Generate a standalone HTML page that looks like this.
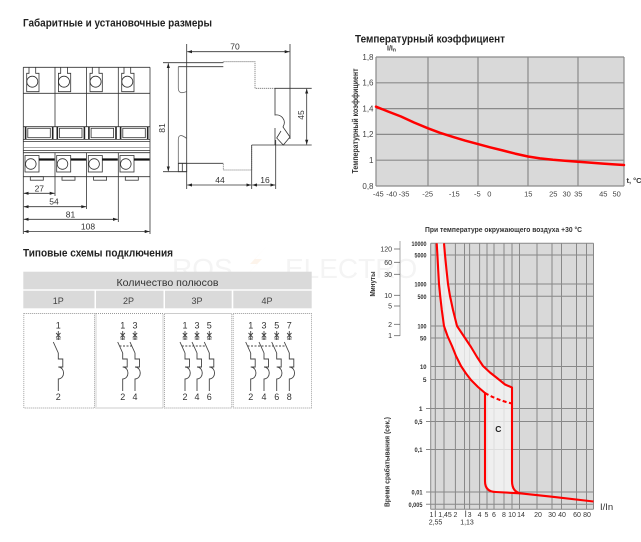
<!DOCTYPE html>
<html><head><meta charset="utf-8"><style>
html,body{margin:0;padding:0;background:#fff;}
svg{display:block;}
text{font-family:"Liberation Sans","DejaVu Sans",sans-serif;}
</style></head><body>
<svg width="641" height="542" viewBox="0 0 641 542" xmlns="http://www.w3.org/2000/svg">
<defs>
<marker id="ar" viewBox="0 0 6 4" refX="6" refY="2" markerWidth="5" markerHeight="3.2" orient="auto-start-reverse" markerUnits="userSpaceOnUse"><path d="M0,0 L6,2 L0,4 z" fill="#222"/></marker>
<g id="pole" fill="none" stroke="#444" stroke-width="0.9">
 <line x1="0" y1="331" x2="0" y2="340"/>
 <line x1="-2.2" y1="333" x2="2.2" y2="337.5"/>
 <line x1="2.2" y1="333" x2="-2.2" y2="337.5"/>
 <line x1="-2.3" y1="339" x2="2.3" y2="339"/>
 <line x1="-5" y1="342" x2="0" y2="353"/>
 <path d="M0,353 V359 H4.5 V367 H0 C7,367.5 7,378.5 0,379 V391"/>
</g>
</defs>

<!-- watermark -->
<text x="172" y="278" font-size="28" fill="#f4f4f4">ROS</text>
<path d="M266,247 L250,264 L257,264 L243,279 L262,259 L255,259 Z" fill="#fbe9d8" opacity="0.5"/>
<text x="285" y="278" font-size="28" fill="#f4f4f4">ELECTRO</text>

<!-- ============ Titles ============ -->
<text x="23" y="26.5" font-size="11" font-weight="bold" fill="#222" textLength="189" lengthAdjust="spacingAndGlyphs">Габаритные и установочные размеры</text>
<text x="23" y="256.5" font-size="11" font-weight="bold" fill="#222" textLength="150" lengthAdjust="spacingAndGlyphs">Типовые схемы подключения</text>
<text x="355" y="42.5" font-size="11" font-weight="bold" fill="#222" textLength="150" lengthAdjust="spacingAndGlyphs">Температурный коэффициент</text>

<!-- ============ Front view ============ -->
<g fill="none" stroke="#333" stroke-width="0.8">
 <line x1="23.3" y1="67.3" x2="23.3" y2="234"/>
 <line x1="150" y1="67.3" x2="150" y2="234"/>
 <line x1="23.3" y1="67.3" x2="150" y2="67.3"/>
 <line x1="23.3" y1="93.3" x2="150" y2="93.3"/>
 <line x1="23.3" y1="126.7" x2="150" y2="126.7"/>
 <line x1="23.3" y1="139.5" x2="150" y2="139.5"/>
 <line x1="23.3" y1="141.5" x2="150" y2="141.5"/>
 <line x1="23.3" y1="147.5" x2="150" y2="147.5" stroke="#888"/>
 <line x1="23.3" y1="150.5" x2="150" y2="150.5"/>
 <line x1="23.3" y1="152.7" x2="150" y2="152.7"/>
 <line x1="23.3" y1="176.7" x2="150" y2="176.7"/>
 <line x1="55" y1="67.3" x2="55" y2="126.7"/>
 <line x1="86.6" y1="67.3" x2="86.6" y2="126.7"/>
 <line x1="118.3" y1="67.3" x2="118.3" y2="126.7"/>
 <line x1="55" y1="152.7" x2="55" y2="196"/>
 <line x1="86.6" y1="152.7" x2="86.6" y2="209"/>
 <line x1="118.3" y1="152.7" x2="118.3" y2="222"/>
 <path d="M29,67.3 V73.3 H26.7 V91.7 H39 V73.3 H35.7 V67.3"/>
 <path d="M60.7,67.3 V73.3 H58.4 V91.7 H70.7 V73.3 H67.4 V67.3"/>
 <path d="M92.3,67.3 V73.3 H90 V91.7 H102.3 V73.3 H99 V67.3"/>
 <path d="M124,67.3 V73.3 H121.7 V91.7 H134 V73.3 H130.7 V67.3"/>
 <circle cx="32.3" cy="81.7" r="5.5"/>
 <circle cx="64" cy="81.7" r="5.5"/>
 <circle cx="95.6" cy="81.7" r="5.5"/>
 <circle cx="127.3" cy="81.7" r="5.5"/>
 <rect x="27.8" y="128.3" width="22.5" height="9.4"/>
 <rect x="59.5" y="128.3" width="22.5" height="9.4"/>
 <rect x="91.1" y="128.3" width="22.5" height="9.4"/>
 <rect x="122.8" y="128.3" width="22.5" height="9.4"/>
 <g stroke-width="1.6" stroke="#222">
  <line x1="25.6" y1="127" x2="25.6" y2="139"/><line x1="52.7" y1="127" x2="52.7" y2="139"/>
  <line x1="57.3" y1="127" x2="57.3" y2="139"/><line x1="84.4" y1="127" x2="84.4" y2="139"/>
  <line x1="88.9" y1="127" x2="88.9" y2="139"/><line x1="116" y1="127" x2="116" y2="139"/>
  <line x1="120.6" y1="127" x2="120.6" y2="139"/><line x1="147.7" y1="127" x2="147.7" y2="139"/>
 </g>
 <rect x="25" y="155.5" width="14" height="16.5"/>
 <rect x="56.7" y="155.5" width="14" height="16.5"/>
 <rect x="88.3" y="155.5" width="14" height="16.5"/>
 <rect x="120" y="155.5" width="14" height="16.5"/>
 <circle cx="30.8" cy="164" r="5.3"/>
 <circle cx="62.5" cy="164" r="5.3"/>
 <circle cx="94.1" cy="164" r="5.3"/>
 <circle cx="125.8" cy="164" r="5.3"/>
 <g stroke-width="2.2" stroke="#111">
  <line x1="39" y1="159.5" x2="54.5" y2="159.5"/>
  <line x1="70.7" y1="159.5" x2="86.1" y2="159.5"/>
  <line x1="102.3" y1="159.5" x2="117.8" y2="159.5"/>
  <line x1="134" y1="159.5" x2="149.5" y2="159.5"/>
 </g>
 <rect x="30.3" y="176.7" width="13" height="3.5"/>
 <rect x="62" y="176.7" width="13" height="3.5"/>
 <rect x="93.6" y="176.7" width="13" height="3.5"/>
 <rect x="125.3" y="176.7" width="13" height="3.5"/>
 <line x1="23.8" y1="193.3" x2="54.5" y2="193.3" marker-start="url(#ar)" marker-end="url(#ar)"/>
 <line x1="23.8" y1="206.7" x2="86.1" y2="206.7" marker-start="url(#ar)" marker-end="url(#ar)"/>
 <line x1="23.8" y1="219.3" x2="117.8" y2="219.3" marker-start="url(#ar)" marker-end="url(#ar)"/>
 <line x1="23.8" y1="231.5" x2="149.5" y2="231.5" marker-start="url(#ar)" marker-end="url(#ar)"/>
</g>
<g font-size="8.5" fill="#333" text-anchor="middle">
 <text x="39.3" y="191.5">27</text>
 <text x="54" y="204.7">54</text>
 <text x="70.5" y="217.5">81</text>
 <text x="88" y="229.5">108</text>
</g>

<!-- ============ Side view ============ -->
<g fill="none" stroke="#333" stroke-width="0.8">
 <line x1="186.7" y1="44" x2="186.7" y2="189"/>
 <line x1="290" y1="44" x2="290" y2="139"/>
 <line x1="187.2" y1="51.7" x2="289.5" y2="51.7" marker-start="url(#ar)" marker-end="url(#ar)"/>
 <line x1="163" y1="62.7" x2="223.3" y2="62.7"/>
 <line x1="178.3" y1="66.7" x2="223.3" y2="66.7"/>
 <path d="M223.3,62.7 V61.7 H255 V88.3 H275" stroke="#777" stroke-dasharray="1.3 0.7"/>
 <line x1="275" y1="88.3" x2="311.7" y2="88.3"/>
 <path d="M275,88.3 V115 C281,114 287,120 283,127 L290,137 L283.3,145 L276.7,138 L281,131"/>
 <line x1="275" y1="128" x2="275" y2="145"/>
 <line x1="251.7" y1="145" x2="311.7" y2="145"/>
 <path d="M251.7,145 V170 H223.3 V163.3" stroke="#777" stroke-dasharray="1.3 0.7"/>
 <line x1="178.3" y1="163.3" x2="223.3" y2="163.3"/>
 <path d="M178.3,66.7 V88 Q178.3,95 186.7,91.5" stroke="#666"/>
 <path d="M186.7,138.5 Q178.3,132 178.3,140 V163.3" stroke="#666"/>
 <rect x="178.3" y="163.3" width="8.4" height="8.4"/>
 <line x1="182.3" y1="163.3" x2="182.3" y2="171.7"/>
 <line x1="163" y1="171.7" x2="186.7" y2="171.7"/>
 <line x1="168.3" y1="63.2" x2="168.3" y2="171.2" marker-start="url(#ar)" marker-end="url(#ar)"/>
 <line x1="306.7" y1="88.8" x2="306.7" y2="144.5" marker-start="url(#ar)" marker-end="url(#ar)"/>
 <line x1="251.7" y1="145" x2="251.7" y2="189"/>
 <line x1="275.7" y1="140" x2="275.7" y2="189"/>
 <line x1="187.2" y1="185" x2="251.2" y2="185" marker-start="url(#ar)" marker-end="url(#ar)"/>
 <line x1="252.2" y1="185" x2="275.2" y2="185" marker-start="url(#ar)" marker-end="url(#ar)"/>
</g>
<g font-size="8.5" fill="#333" text-anchor="middle">
 <text x="235" y="49.5">70</text>
 <text x="220" y="183">44</text>
 <text x="265" y="183">16</text>
 <text transform="translate(165,128) rotate(-90)">81</text>
 <text transform="translate(304,115) rotate(-90)">45</text>
</g>

<!-- ============ Table ============ -->
<rect x="23.3" y="271.7" width="288.4" height="17.6" fill="#dadada"/>
<text x="167.5" y="286" font-size="10.5" text-anchor="middle" fill="#333" textLength="102" lengthAdjust="spacingAndGlyphs">Количество полюсов</text>
<rect x="23.3" y="290.7" width="71.2" height="17.6" fill="#dadada"/>
<rect x="96" y="290.7" width="67.5" height="17.6" fill="#dadada"/>
<rect x="165" y="290.7" width="66.7" height="17.6" fill="#dadada"/>
<rect x="233.3" y="290.7" width="78.4" height="17.6" fill="#dadada"/>
<g font-size="9" fill="#444" text-anchor="middle">
 <text x="58.3" y="304.2">1P</text>
 <text x="128.5" y="304.2">2P</text>
 <text x="197" y="304.2">3P</text>
 <text x="267" y="304.2">4P</text>
</g>
<g fill="none" stroke="#999" stroke-width="0.9" stroke-dasharray="1 1">
 <rect x="23.8" y="313.5" width="70.7" height="94.5"/>
 <rect x="96" y="313.5" width="67" height="94.5"/>
 <rect x="164.5" y="313.5" width="67.2" height="94.5"/>
 <rect x="233.2" y="313.5" width="78.3" height="94.5"/>
</g>
<use href="#pole" x="58.3"/>
<use href="#pole" x="122.7"/><use href="#pole" x="135"/>
<use href="#pole" x="185"/><use href="#pole" x="197"/><use href="#pole" x="209.3"/>
<use href="#pole" x="250.7"/><use href="#pole" x="264"/><use href="#pole" x="276.7"/><use href="#pole" x="289.3"/>
<g stroke="#444" stroke-width="0.9" stroke-dasharray="2 1.5">
 <line x1="119.5" y1="346" x2="131.8" y2="346"/>
 <line x1="181.8" y1="346" x2="206.1" y2="346"/>
 <line x1="247.5" y1="346" x2="286.1" y2="346"/>
</g>
<g font-size="9" fill="#333" text-anchor="middle">
 <text x="58.3" y="328.5">1</text><text x="58.3" y="400">2</text>
 <text x="122.7" y="328.5">1</text><text x="135" y="328.5">3</text>
 <text x="122.7" y="400">2</text><text x="135" y="400">4</text>
 <text x="185" y="328.5">1</text><text x="197" y="328.5">3</text><text x="209.3" y="328.5">5</text>
 <text x="185" y="400">2</text><text x="197" y="400">4</text><text x="209.3" y="400">6</text>
 <text x="250.7" y="328.5">1</text><text x="264" y="328.5">3</text><text x="276.7" y="328.5">5</text><text x="289.3" y="328.5">7</text>
 <text x="250.7" y="400">2</text><text x="264" y="400">4</text><text x="276.7" y="400">6</text><text x="289.3" y="400">8</text>
</g>

<!-- ============ Temperature chart ============ -->
<rect x="376" y="57" width="248" height="129" fill="#d9d9d9"/>
<g stroke="#8a8a8a" stroke-width="1.2" fill="none">
 <line x1="376" y1="57" x2="624" y2="57"/>
 <line x1="376" y1="82.8" x2="624" y2="82.8"/>
 <line x1="376" y1="108.6" x2="624" y2="108.6"/>
 <line x1="376" y1="134.4" x2="624" y2="134.4"/>
 <line x1="376" y1="160.2" x2="624" y2="160.2"/>
 <line x1="376" y1="186" x2="624" y2="186"/>
 <line x1="376" y1="57" x2="376" y2="186"/>
 <line x1="428" y1="57" x2="428" y2="186"/>
 <line x1="478" y1="57" x2="478" y2="186"/>
 <line x1="528" y1="57" x2="528" y2="186"/>
 <line x1="578" y1="57" x2="578" y2="186"/>
 <line x1="624" y1="57" x2="624" y2="186"/>
</g>
<polyline fill="none" stroke="#ff0000" stroke-width="2.5" stroke-linejoin="round" stroke-linecap="round" points="376,106.7 388,111.5 401,116.5 414,122.5 428,128.3 440,132.8 453,136.9 465,140.6 478,144.1 490,147.3 503,150.5 515,153.6 528,156.5 540,158.4 553,159.8 565,160.8 578,161.7 590,162.6 603,163.6 614,164.4 624,165"/>
<g font-size="8" fill="#444" text-anchor="end">
 <text x="373.5" y="59.8">1,8</text>
 <text x="373.5" y="85.6">1,6</text>
 <text x="373.5" y="111.4">1,4</text>
 <text x="373.5" y="137.2">1,2</text>
 <text x="373.5" y="163">1</text>
 <text x="373.5" y="188.8">0,8</text>
</g>
<g font-size="7.5" fill="#444" text-anchor="middle">
 <text x="378.3" y="196.5">-45</text>
 <text x="391.7" y="196.5">-40</text>
 <text x="404" y="196.5">-35</text>
 <text x="427.7" y="196.5">-25</text>
 <text x="454.3" y="196.5">-15</text>
 <text x="477.3" y="196.5">-5</text>
 <text x="489.3" y="196.5">0</text>
 <text x="528.3" y="196.5">15</text>
 <text x="553.3" y="196.5">25</text>
 <text x="566.7" y="196.5">30</text>
 <text x="578.3" y="196.5">35</text>
 <text x="603.3" y="196.5">45</text>
 <text x="616.7" y="196.5">50</text>
</g>
<text x="387" y="50.5" font-size="7" font-weight="bold" fill="#333">I/I<tspan font-size="5" dy="1">n</tspan></text>
<text x="626.5" y="183" font-size="7.5" font-weight="bold" fill="#333">t, °C</text>
<text transform="translate(358,121) rotate(-90)" font-size="8" font-weight="bold" fill="#333" text-anchor="middle" textLength="105" lengthAdjust="spacingAndGlyphs">Температурный коэффициент</text>

<!-- ============ Trip curve chart ============ -->
<text x="425" y="232" font-size="7.5" font-weight="bold" fill="#333" textLength="157" lengthAdjust="spacingAndGlyphs">При температуре окружающего воздуха +30 °С</text>
<rect x="430.7" y="243.3" width="162.8" height="266" fill="#d9d9d9"/>
<g stroke="#888" stroke-width="1" fill="none">
 <line x1="430.7" y1="243.3" x2="593.5" y2="243.3"/>
 <line x1="430.7" y1="255" x2="593.5" y2="255"/>
 <line x1="430.7" y1="284" x2="593.5" y2="284"/>
 <line x1="430.7" y1="296.3" x2="593.5" y2="296.3"/>
 <line x1="430.7" y1="326" x2="593.5" y2="326"/>
 <line x1="430.7" y1="338" x2="593.5" y2="338"/>
 <line x1="430.7" y1="366.5" x2="593.5" y2="366.5"/>
 <line x1="430.7" y1="379.5" x2="593.5" y2="379.5"/>
 <line x1="426" y1="408.5" x2="593.5" y2="408.5"/>
 <line x1="426" y1="421.5" x2="593.5" y2="421.5"/>
 <line x1="426" y1="449.5" x2="593.5" y2="449.5"/>
 <line x1="426" y1="492" x2="593.5" y2="492"/>
 <line x1="426" y1="504.3" x2="593.5" y2="504.3"/>
 <line x1="430.7" y1="509.3" x2="593.5" y2="509.3"/>
 <line x1="430.7" y1="243.3" x2="430.7" y2="509.3"/>
 <line x1="435.3" y1="243.3" x2="435.3" y2="509.3"/>
 <line x1="444" y1="243.3" x2="444" y2="509.3"/>
 <line x1="455.4" y1="243.3" x2="455.4" y2="509.3"/>
 <line x1="464.5" y1="243.3" x2="464.5" y2="509.3"/>
 <line x1="469.6" y1="243.3" x2="469.6" y2="509.3"/>
 <line x1="479.6" y1="243.3" x2="479.6" y2="509.3"/>
 <line x1="487" y1="243.3" x2="487" y2="509.3"/>
 <line x1="494" y1="243.3" x2="494" y2="509.3"/>
 <line x1="504" y1="243.3" x2="504" y2="509.3"/>
 <line x1="512" y1="243.3" x2="512" y2="509.3"/>
 <line x1="519.5" y1="243.3" x2="519.5" y2="509.3"/>
 <line x1="537" y1="243.3" x2="537" y2="509.3"/>
 <line x1="552" y1="243.3" x2="552" y2="509.3"/>
 <line x1="561.5" y1="243.3" x2="561.5" y2="509.3"/>
 <line x1="576.5" y1="243.3" x2="576.5" y2="509.3"/>
 <line x1="586.5" y1="243.3" x2="586.5" y2="509.3"/>
 <line x1="593.5" y1="243.3" x2="593.5" y2="509.3"/>
</g>
<path fill="#f4f4f4" opacity="0.8" d="M436.7,243.3 L437.4,255 L438.2,270 L439,284 L440.2,296 L441.8,310 L444,326 L447.5,336 L452,346 L456,356 L461,366 L466,373.5 L471,380 L478,387 L485,393 L485,481 Q485,492 496,492 L520,493.3 Q512,492 512,481 L512,387.5 L505,384.5 L497,378 L490,372.5 L483,366 L477,357 L471,347 L465,338 L457,326 L453,310 L450,296 L448,284 L446.5,270 L445,255 L444,243.3 Z"/>
<g fill="none" stroke="#ff0000" stroke-width="2.1" stroke-linejoin="round">
 <path d="M436.7,243.3 L437.4,255 L438.2,270 L439,284 L440.2,296 L441.8,310 L444,326 L447.5,336 L452,346 L456,356 L461,366 L466,373.5 L471,380 L478,387 L485,393 L485,481 Q485,492 496,492 L520,493.3 L551.7,496.7 L593.5,501.5"/>
 <path d="M444,243.3 L445,255 L446.5,270 L448,284 L450,296 L453,310 L457,326 L465,338 L471,347 L477,357 L483,366 L490,372.5 L497,378 L505,384.5 L512,387.5 L512,481 Q512,492 521,493.5"/>
 <path d="M485,393 Q497,400 512,403.5" stroke-dasharray="4 2.5"/>
</g>
<text x="498.3" y="432" font-size="8.5" font-weight="bold" fill="#222" text-anchor="middle">C</text>
<g font-size="6.5" font-weight="bold" fill="#333" text-anchor="end">
 <text x="426.5" y="245.8" textLength="15" lengthAdjust="spacingAndGlyphs">10000</text>
 <text x="426.5" y="257.5" textLength="12" lengthAdjust="spacingAndGlyphs">5000</text>
 <text x="426.5" y="286.5" textLength="12" lengthAdjust="spacingAndGlyphs">1000</text>
 <text x="426.5" y="298.8" textLength="9" lengthAdjust="spacingAndGlyphs">500</text>
 <text x="426.5" y="328.5" textLength="9" lengthAdjust="spacingAndGlyphs">100</text>
 <text x="426.5" y="340.5" textLength="6.5" lengthAdjust="spacingAndGlyphs">50</text>
 <text x="426.5" y="369" textLength="6.5" lengthAdjust="spacingAndGlyphs">10</text>
 <text x="426.5" y="382">5</text>
 <text x="422.5" y="411">1</text>
 <text x="422.5" y="424" textLength="8" lengthAdjust="spacingAndGlyphs">0,5</text>
 <text x="422.5" y="452" textLength="8" lengthAdjust="spacingAndGlyphs">0,1</text>
 <text x="422.5" y="494.5" textLength="11" lengthAdjust="spacingAndGlyphs">0,01</text>
 <text x="422.5" y="506.8" textLength="14" lengthAdjust="spacingAndGlyphs">0,005</text>
</g>
<line x1="400" y1="241" x2="400" y2="336" stroke="#aaa" stroke-width="1"/>
<g stroke="#666" stroke-width="0.8">
 <line x1="394" y1="249" x2="400" y2="249"/>
 <line x1="394" y1="262.3" x2="400" y2="262.3"/>
 <line x1="394" y1="274.3" x2="400" y2="274.3"/>
 <line x1="394" y1="295.3" x2="400" y2="295.3"/>
 <line x1="394" y1="306" x2="400" y2="306"/>
 <line x1="394" y1="324.3" x2="400" y2="324.3"/>
 <line x1="394" y1="335.7" x2="400" y2="335.7"/>
</g>
<g font-size="7" fill="#333" text-anchor="end">
 <text x="392" y="251.5">120</text>
 <text x="392" y="264.8">60</text>
 <text x="392" y="276.8">30</text>
 <text x="392" y="297.8">10</text>
 <text x="392" y="308.5">5</text>
 <text x="392" y="326.8">2</text>
 <text x="392" y="338.2">1</text>
</g>
<text transform="translate(375,284) rotate(-90)" font-size="7" font-weight="bold" fill="#333" text-anchor="middle" textLength="25" lengthAdjust="spacingAndGlyphs">Минуты</text>
<text transform="translate(389.5,462) rotate(-90)" font-size="7" font-weight="bold" fill="#333" text-anchor="middle" textLength="90" lengthAdjust="spacingAndGlyphs">Время срабатывания (сек.)</text>
<g font-size="7" fill="#333" text-anchor="middle">
 <text x="431.5" y="517">1</text>
 <text x="445" y="517">1,45</text>
 <text x="455.4" y="517">2</text>
 <text x="469.6" y="517">3</text>
 <text x="479.6" y="517">4</text>
 <text x="486.5" y="517">5</text>
 <text x="494" y="517">6</text>
 <text x="504" y="517">8</text>
 <text x="512" y="517">10</text>
 <text x="521" y="517">14</text>
 <text x="538" y="517">20</text>
 <text x="552" y="517">30</text>
 <text x="562" y="517">40</text>
 <text x="577" y="517">60</text>
 <text x="587" y="517">80</text>
 <text x="435.5" y="524.5">2,55</text>
 <text x="467" y="524.5">1,13</text>
</g>
<g stroke="#444" stroke-width="0.8">
 <line x1="435.3" y1="510.5" x2="435.3" y2="517"/>
 <line x1="465.7" y1="510.5" x2="465.7" y2="517"/>
</g>
<text x="600" y="510" font-size="9.5" fill="#333">I/In</text>
</svg>
</body></html>
